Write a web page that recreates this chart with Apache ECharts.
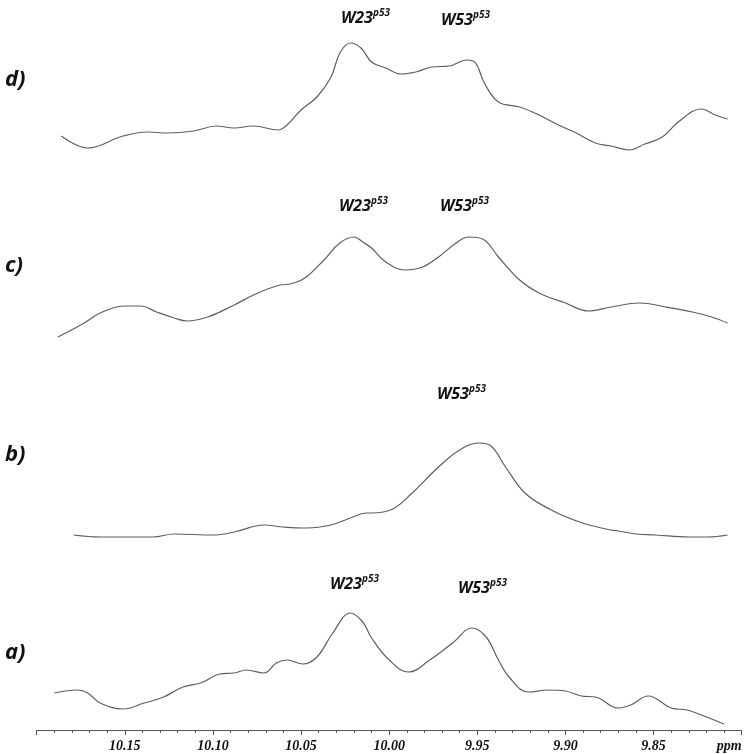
<!DOCTYPE html>
<html>
<head>
<meta charset="utf-8">
<script src="https://cdn.jsdelivr.net/npm/echarts@6/dist/echarts.min.js"></script>
<style>
  html, body { margin: 0; padding: 0; background: #fff; }
  #chart { width: 745px; height: 754px; }
</style>
</head>
<body>
<div id="chart"></div>
<script>
// chemical shift (ppm) and intensity, a) is the bottom one
const ppmA = [10.190, 10.177, 10.171, 10.164, 10.151, 10.139, 10.128, 10.117, 10.107, 10.096, 10.088, 10.081, 10.071, 10.064, 10.058, 10.049, 10.041, 10.032, 10.022, 10.015, 10.010, 10.000, 9.989, 9.977, 9.964, 9.953, 9.945, 9.938, 9.932, 9.921, 9.910, 9.900, 9.891, 9.883, 9.870, 9.863, 9.853, 9.840, 9.831, 9.823, 9.810]
const intA = [35, 38, 35, 25, 19, 25, 31, 41, 45, 54, 55, 58, 55, 65, 68, 64, 71, 95, 115, 106, 90, 68, 56, 68, 85, 100, 91, 68, 51, 36, 38, 37, 32, 31, 20, 23, 32, 20, 18, 13, 4]

const ppmB = [10.179, 10.164, 10.134, 10.122, 10.100, 10.088, 10.071, 10.060, 10.047, 10.033, 10.022, 10.013, 10.010, 9.998, 9.987, 9.972, 9.960, 9.949, 9.943, 9.934, 9.923, 9.908, 9.892, 9.877, 9.870, 9.860, 9.849, 9.830, 9.819, 9.808]
const intB = [5, 3, 3, 6, 5, 8, 15, 13, 12, 15, 22, 27, 27, 31, 47, 73, 90, 97, 95, 73, 47, 30, 18, 11, 9, 6, 5, 3, 3, 5]

const ppmC = [10.188, 10.173, 10.164, 10.150, 10.141, 10.132, 10.122, 10.115, 10.103, 10.088, 10.077, 10.064, 10.054, 10.047, 10.037, 10.028, 10.020, 10.015, 10.010, 10.002, 9.991, 9.981, 9.972, 9.962, 9.955, 9.947, 9.938, 9.926, 9.915, 9.900, 9.887, 9.874, 9.858, 9.843, 9.828, 9.817, 9.808]
const intC = [8, 22, 32, 39, 39, 33, 27, 24, 28, 40, 50, 59, 62, 68, 85, 102, 108, 103, 97, 83, 75, 78, 88, 102, 108, 106, 88, 65, 52, 42, 34, 38, 42, 38, 33, 28, 22]

const ppmD = [10.186, 10.171, 10.151, 10.137, 10.126, 10.111, 10.098, 10.088, 10.077, 10.063, 10.058, 10.050, 10.041, 10.033, 10.028, 10.022, 10.016, 10.010, 10.002, 9.993, 9.985, 9.976, 9.966, 9.956, 9.951, 9.946, 9.938, 9.926, 9.915, 9.904, 9.895, 9.883, 9.874, 9.864, 9.855, 9.845, 9.836, 9.823, 9.815, 9.808]
const intD = [24, 12, 24, 28, 27, 29, 34, 32, 34, 30, 35, 50, 63, 83, 107, 117, 112, 98, 92, 86, 88, 93, 94, 100, 97, 77, 58, 53, 45, 35, 28, 17, 14, 10, 16, 23, 38, 51, 45, 41]

const xTicks = [9.80, 9.85, 9.90, 9.95, 10.00, 10.05, 10.10, 10.15, 10.20]

const traces = [
  { name: 'a)', ppm: ppmA, y: intA, offset: 2, labelTop: 642 },
  { name: 'b)', ppm: ppmB, y: intB, offset: 190, labelTop: 444 },
  { name: 'c)', ppm: ppmC, y: intC, offset: 385, labelTop: 255 },
  { name: 'd)', ppm: ppmD, y: intD, offset: 570, labelTop: 69 }
]

// peak assignments shown above the traces
const peaks = [
  { res: 'W23', left: 330, top: 574 },
  { res: 'W53', left: 458, top: 578 },
  { res: 'W53', left: 437, top: 384 },
  { res: 'W23', left: 339, top: 196 },
  { res: 'W53', left: 440, top: 196 },
  { res: 'W23', left: 341, top: 8 },
  { res: 'W53', left: 441, top: 10 }
]

const chart = echarts.init(document.getElementById('chart'))

const series = traces.map(t => ({
  name: t.name,
  type: 'line',
  smooth: 0.4,
  showSymbol: false,
  data: t.ppm.map((p, i) => [p, t.y[i] + t.offset]),
  lineStyle: { color: '#5e5e5e', width: 1.2 }
}))

const graphic = []
traces.forEach(t => {
  graphic.push({
    type: 'text',
    left: 5,
    top: t.labelTop,
    style: {
      text: t.name,
      font: 'italic bold 22px "Open Sans", sans-serif',
      fill: '#111'
    }
  })
})
peaks.forEach(p => {
  graphic.push({
    type: 'text',
    left: p.left,
    top: p.top,
    style: {
      text: '{m|' + p.res + '}{s|p53}',
      rich: {
        m: { font: 'italic bold 16px "Open Sans", sans-serif', fill: '#111', verticalAlign: 'bottom' },
        s: { font: 'italic bold 10px "Open Sans", sans-serif', fill: '#111', verticalAlign: 'top', padding: [0, 0, 8, 0] }
      }
    }
  })
})

chart.setOption({
  animation: false,
  grid: { left: 36.7, right: 3.3, top: 0, bottom: 24 },
  xAxis: {
    type: 'value',
    inverse: true,
    min: xTicks[0],
    max: xTicks[xTicks.length - 1],
    interval: 0.05,
    axisLine: { show: true, onZero: false, lineStyle: { color: '#555', width: 1 } },
    axisTick: { show: true, length: 5, lineStyle: { color: '#555' } },
    minorTick: { show: true, splitNumber: 5, length: 3, lineStyle: { color: '#555' } },
    splitLine: { show: false },
    axisLabel: {
      margin: 9,
      showMinLabel: true,
      showMaxLabel: true,
      alignMinLabel: 'right',
      color: '#111',
      fontFamily: 'Liberation Serif',
      fontStyle: 'italic',
      fontWeight: 'bold',
      fontSize: 14,
      formatter: v => (v > 10.195 ? '' : v < 9.805 ? 'ppm' : v.toFixed(2))
    }
  },
  yAxis: {
    type: 'value',
    min: 0,
    max: 730,
    show: false
  },
  series,
  graphic
})
</script>
</body>
</html>
